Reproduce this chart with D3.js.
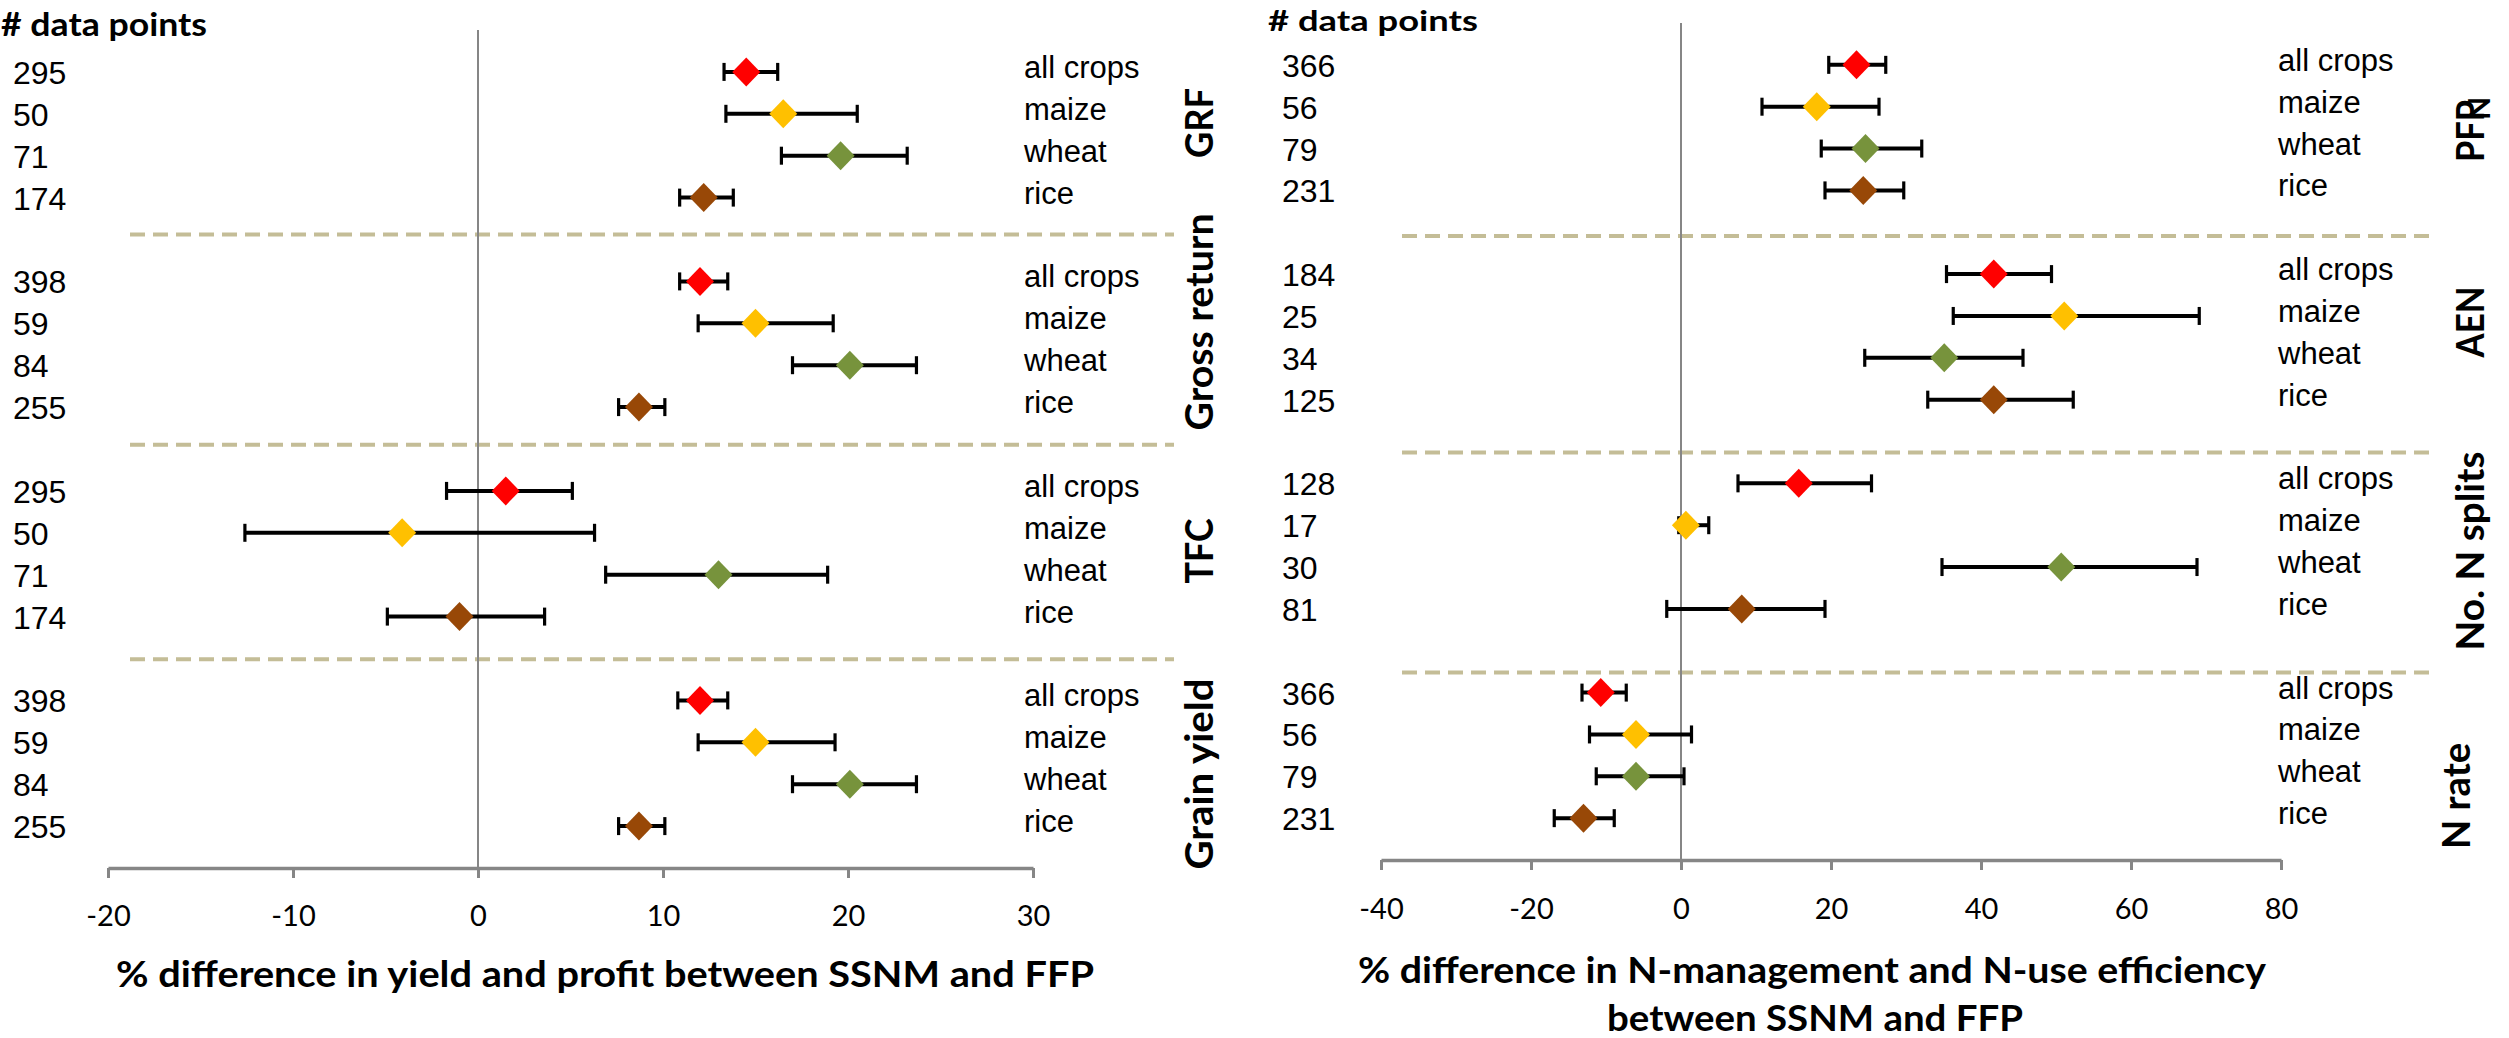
<!DOCTYPE html>
<html><head><meta charset="utf-8">
<script src="https://cdn.jsdelivr.net/npm/d3@7"></script>
<style>
html,body{margin:0;padding:0;background:#fff;}
svg{display:block;}
</style></head><body>
<svg id="chart" width="2509" height="1038"></svg>
<script>
// ---------------- DATA ----------------
const crops = ["all crops", "maize", "wheat", "rice"];
const cropColors = ["#ff0000", "#ffc000", "#77933c", "#984807"];

// Left panel: yield and profit
const leftGroups = ["GRF", "Gross return", "TFC", "Grain yield"];
const leftN = [[295, 50, 71, 174], [398, 59, 84, 255], [295, 50, 71, 174], [398, 59, 84, 255]];
const leftMean = [[14.5, 16.5, 19.6, 12.2], [12.0, 15.0, 20.1, 8.7], [1.5, -4.1, 13.0, -1.0], [12.0, 15.0, 20.1, 8.7]];
const leftLow  = [[13.3, 13.4, 16.4, 10.9], [10.9, 11.9, 17.0, 7.6], [-1.7, -12.6, 6.9, -4.9], [10.8, 11.9, 17.0, 7.6]];
const leftHigh = [[16.2, 20.5, 23.2, 13.8], [13.5, 19.2, 23.7, 10.1], [5.1, 6.3, 18.9, 3.6], [13.5, 19.3, 23.7, 10.1]];
const leftTicks = [-20, -10, 0, 10, 20, 30];
const leftSeparators = [3.88, 8.9, 14.02];

// Right panel: N management and N-use efficiency
const rightGroups = ["PFP", "AEN", "No. N splits", "N rate"];
const rightN = [[366, 56, 79, 231], [184, 25, 34, 125], [128, 17, 30, 81], [366, 56, 79, 231]];
const rightMean = [[23.4, 18.1, 24.6, 24.3], [41.7, 51.1, 35.1, 41.7], [15.7, 0.65, 50.7, 8.1], [-10.7, -6.0, -6.0, -13.0]];
const rightLow  = [[19.7, 10.8, 18.7, 19.2], [35.4, 36.3, 24.5, 32.9], [7.6, -0.3, 34.8, -1.9], [-13.2, -12.2, -11.3, -16.9]];
const rightHigh = [[27.3, 26.4, 32.1, 29.7], [49.4, 69.1, 45.6, 52.3], [25.4, 3.7, 68.8, 19.2], [-7.3, 1.4, 0.4, -8.9]];
const rightTicks = [-40, -20, 0, 20, 40, 60, 80];
const rightSeparators = [4.09, 9.26, 14.52];

const countHeader = "# data points";
const leftTitle = ["% difference in yield and profit between SSNM and FFP"];
const rightTitle = ["% difference in N-management and N-use efficiency", "between SSNM and FFP"];

// ---------------- LAYOUT ----------------
const svg = d3.select("#chart");
const FONT_NUM = "'Liberation Sans', Arial, sans-serif";
const FONT_TITLE = "Lato, 'Open Sans', sans-serif";

const panels = [
  {
    groups: leftGroups, n: leftN, mean: leftMean, low: leftLow, high: leftHigh,
    ticks: leftTicks, seps: leftSeparators,
    xDomain: [-20, 30], xRange: [108, 1033],
    yRange: [30, 868], axisY: 868,
    sepX: [130, 1174],
    numX: 13, cropX: 1024,
    header: {x: 1, y: 36, len: 206, size: 33},
    groupLabel: {x: 1213, cy: [123, 322, 551, 774], len: [70, 217, 65, 191]},
    titleLines: leftTitle, titlePos: [{x: 116, y: 987, len: 978}],
    tickPad: 27
  },
  {
    groups: rightGroups, n: rightN, mean: rightMean, low: rightLow, high: rightHigh,
    ticks: rightTicks, seps: rightSeparators,
    xDomain: [-40, 80], xRange: [1381, 2281],
    yRange: [23, 860], axisY: 860,
    sepX: [1402, 2434],
    numX: 1282, cropX: 2278,
    header: {x: 1268, y: 31, len: 210, size: 29},
    groupLabel: {x: [2484, 2484, 2484, 2470], cy: [131, 322, 551, 796], len: [62, 71, 199, 106]},
    titleLines: rightTitle, titlePos: [{x: 1358, y: 983, len: 908}, {x: 1607, y: 1031, len: 416}],
    tickPad: 28
  }
];

panels.forEach((p, pi) => {
  const x = d3.scaleLinear().domain(p.xDomain).range(p.xRange);
  const y = d3.scaleLinear().domain([-1, 19]).range(p.yRange);
  const g = svg.append("g");

  // separators
  g.selectAll("line.sep").data(p.seps).join("line")
    .attr("x1", p.sepX[0]).attr("x2", p.sepX[1])
    .attr("y1", d => y(d)).attr("y2", d => y(d))
    .attr("stroke", "#c4bd97").attr("stroke-width", 4)
    .attr("stroke-dasharray", "15,8");

  // zero line
  g.append("line")
    .attr("x1", x(0)).attr("x2", x(0))
    .attr("y1", y(-1)).attr("y2", p.axisY)
    .attr("stroke", "#868686").attr("stroke-width", 2);

  // axis
  const axis = d3.axisBottom(x).tickValues(p.ticks).tickSize(10).tickSizeOuter(0)
    .tickPadding(p.tickPad).tickFormat(d3.format("d"));
  const ag = g.append("g").attr("transform", `translate(0,${p.axisY})`).call(axis);
  ag.select(".domain").attr("stroke", "#868686").attr("stroke-width", 3.5);
  ag.selectAll(".tick line").attr("stroke", "#868686").attr("stroke-width", 3);
  ag.selectAll(".tick text").attr("font-family", FONT_TITLE).attr("font-size", 29)
    .attr("fill", "#000").text(d => d < 0 ? "-" + Math.abs(d) : d);

  // rows
  const rows = [];
  p.groups.forEach((grp, gi) => {
    crops.forEach((c, ci) => {
      rows.push({gi, ci, row: gi * 5 + ci, crop: c, n: p.n[gi][ci],
        mean: p.mean[gi][ci], low: p.low[gi][ci], high: p.high[gi][ci]});
    });
  });

  // error bars
  g.selectAll("line.err").data(rows).join("line")
    .attr("x1", d => x(d.low)).attr("x2", d => x(d.high))
    .attr("y1", d => y(d.row)).attr("y2", d => y(d.row))
    .attr("stroke", "#000").attr("stroke-width", 4);
  ["low", "high"].forEach(k => {
    g.selectAll("line.cap" + k).data(rows).join("line")
      .attr("x1", d => x(d[k])).attr("x2", d => x(d[k]))
      .attr("y1", d => y(d.row) - 9).attr("y2", d => y(d.row) + 9)
      .attr("stroke", "#000").attr("stroke-width", 3.2);
  });

  // diamonds
  g.selectAll("path.pt").data(rows).join("path")
    .attr("d", "M0,-14.5L14,0L0,14.5L-14,0Z")
    .attr("transform", d => `translate(${x(d.mean)},${y(d.row)})`)
    .attr("fill", d => cropColors[d.ci]);

  // count labels
  g.selectAll("text.num").data(rows).join("text")
    .attr("x", p.numX).attr("y", d => y(d.row) + 12)
    .attr("font-family", FONT_NUM).attr("font-size", 32).attr("fill", "#000")
    .text(d => d.n);

  // crop labels
  g.selectAll("text.crop").data(rows).join("text")
    .attr("x", p.cropX).attr("y", d => y(d.row) + 6)
    .attr("font-family", FONT_NUM).attr("font-size", 31).attr("fill", "#000")
    .text(d => d.crop);

  // group labels
  p.groups.forEach((grp, gi) => {
    const gx = Array.isArray(p.groupLabel.x) ? p.groupLabel.x[gi] : p.groupLabel.x;
    const t = g.append("text")
      .attr("transform", `translate(${gx},${p.groupLabel.cy[gi]}) rotate(-90)`)
      .attr("text-anchor", "middle")
      .attr("font-family", FONT_TITLE).attr("font-weight", "bold").attr("font-size", 39)
      .attr("fill", "#000");
    if (pi === 1 && gi === 0) {
      t.attr("text-anchor", "start").attr("x", -31);
      t.append("tspan").attr("textLength", p.groupLabel.len[gi])
        .attr("lengthAdjust", "spacingAndGlyphs").text(grp);
      t.append("tspan").attr("dx", -20).attr("dy", 6).attr("font-size", 30).text("N");
    } else {
      t.attr("textLength", p.groupLabel.len[gi]).attr("lengthAdjust", "spacingAndGlyphs").text(grp);
    }
  });

  // header
  g.append("text").attr("x", p.header.x).attr("y", p.header.y)
    .attr("font-family", FONT_TITLE).attr("font-weight", "bold").attr("font-size", p.header.size)
    .attr("textLength", p.header.len).attr("lengthAdjust", "spacingAndGlyphs")
    .attr("fill", "#000").text(countHeader);

  // axis title
  p.titleLines.forEach((line, li) => {
    const pos = p.titlePos[li];
    g.append("text").attr("x", pos.x).attr("y", pos.y)
      .attr("font-family", FONT_TITLE).attr("font-weight", "bold").attr("font-size", 36)
      .attr("textLength", pos.len).attr("lengthAdjust", "spacingAndGlyphs")
      .attr("fill", "#000").text(line);
  });
});
</script>
</body></html>
